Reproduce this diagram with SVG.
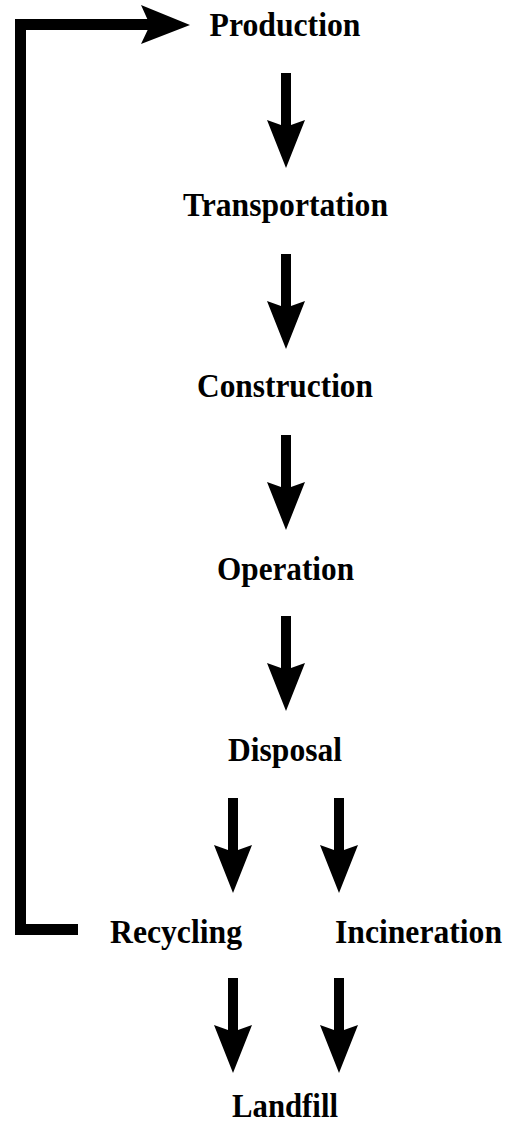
<svg xmlns="http://www.w3.org/2000/svg" width="509" height="1126" viewBox="0 0 509 1126">
<style>
.lbl{font-family:"Liberation Serif","Times New Roman",serif;font-weight:bold;font-size:33px;fill:#000;text-anchor:middle}
.arr{fill:#000}
.loop{fill:none;stroke:#000;stroke-width:11;stroke-linejoin:miter}
</style>
<defs>
<path id="down" d="M-5,-95 L5,-95 L5,-43 L19,-48 L0,0 L-19,-48 L-5,-43 Z"/>
</defs>
<rect width="509" height="1126" fill="#fff"/>
<g id="connectors">
<use href="#down" class="arr" x="286" y="168"/>
<use href="#down" class="arr" x="286" y="349"/>
<use href="#down" class="arr" x="286" y="530"/>
<use href="#down" class="arr" x="286" y="711"/>
<use href="#down" class="arr" x="233" y="893"/>
<use href="#down" class="arr" x="339" y="893"/>
<use href="#down" class="arr" x="233" y="1073"/>
<use href="#down" class="arr" x="339" y="1073"/>
<path class="loop" d="M78,929.5 L20.5,929.5 L20.5,24.5 L152,24.5"/>
<path class="arr" d="M141,5 L190,25 L141,44 L150,25 Z"/>
</g>
<g id="production"><text class="lbl" x="285" y="36" textLength="151" lengthAdjust="spacingAndGlyphs">Production</text></g>
<g id="transportation"><text class="lbl" x="285.5" y="216" textLength="205" lengthAdjust="spacingAndGlyphs">Transportation</text></g>
<g id="construction"><text class="lbl" x="285" y="397" textLength="176" lengthAdjust="spacingAndGlyphs">Construction</text></g>
<g id="operation"><text class="lbl" x="285.5" y="580" textLength="137" lengthAdjust="spacingAndGlyphs">Operation</text></g>
<g id="disposal"><text class="lbl" x="285" y="761" textLength="114" lengthAdjust="spacingAndGlyphs">Disposal</text></g>
<g id="recycling"><text class="lbl" x="176" y="943" textLength="132" lengthAdjust="spacingAndGlyphs">Recycling</text></g>
<g id="incineration"><text class="lbl" x="418.5" y="943" textLength="167" lengthAdjust="spacingAndGlyphs">Incineration</text></g>
<g id="landfill"><text class="lbl" x="285" y="1117" textLength="106" lengthAdjust="spacingAndGlyphs">Landfill</text></g>
</svg>
